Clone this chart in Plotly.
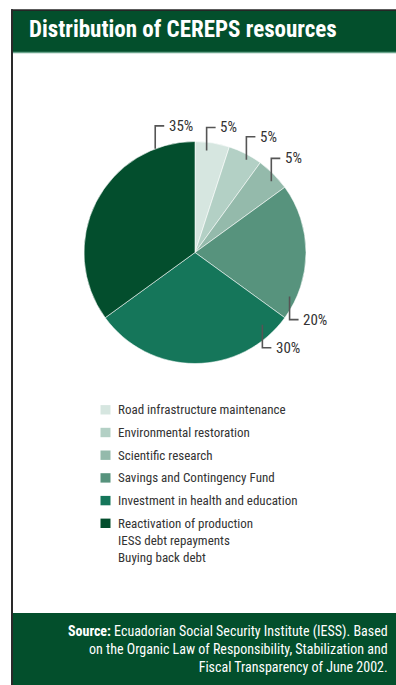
import math
import plotly.graph_objects as go

# ---- data ----
categories = [
    "Road infrastructure maintenance",
    "Environmental restoration",
    "Scientific research",
    "Savings and Contingency Fund",
    "Investment in health and education",
    "Reactivation of production<br>IESS debt repayments<br>Buying back debt",
]
shares = [5, 5, 5, 20, 30, 35]
slice_colors = ["#d6e6e0", "#b3d0c5", "#94baab", "#57937d", "#15765a", "#034e2d"]

title_text = "Distribution of CEREPS resources"
source_text = ("<b>Source:</b> Ecuadorian Social Security Institute (IESS). Based<br>"
               "on the Organic Law of Responsibility, Stabilization and<br>"
               "Fiscal Transparency of June 2002.")

# ---- layout constants ----
W, H = 396, 685
FONT = "Liberation Sans Narrow, Roboto Condensed, DejaVu Sans Condensed, Arial Narrow, sans-serif"
GREEN = "#034f2c"
CX, CY, R = 195, 252.5, 111  # pie centre / radius in px

# label anchors: angle (deg clockwise from 12 o'clock), radius fraction, direction (-1 up, +1 down)
label_anchor = [(6.5, 0.925, -1), (29, 0.955, -1), (47, 0.94, -1),
                (115, 0.94, 1), (137, 0.89, 1), (339, 1.0, -1)]


def px(x):
    return x / W


def py(y):
    return 1 - y / H


fig = go.Figure()
fig.add_trace(go.Pie(
    labels=categories, values=shares, sort=False, direction="clockwise", rotation=0,
    marker=dict(colors=slice_colors, line=dict(color="rgba(255,255,255,0.7)", width=0.8)),
    textinfo="none", hoverinfo="skip", showlegend=False,
    domain=dict(x=[px(CX - R), px(CX + R)], y=[py(CY + R), py(CY - R)]),
))

shapes = []
annotations = []

# frame: header, footer, borders
shapes.append(dict(type="rect", xref="paper", yref="paper", x0=px(12), x1=1, y0=py(52), y1=py(10.5),
                   fillcolor=GREEN, line_width=0, layer="below"))
shapes.append(dict(type="rect", xref="paper", yref="paper", x0=px(12), x1=1, y0=py(53.3), y1=py(51.8),
                   fillcolor="#6aa48c", line_width=0, layer="below"))
shapes.append(dict(type="rect", xref="paper", yref="paper", x0=px(12), x1=1, y0=0, y1=py(613),
                   fillcolor=GREEN, line_width=0, layer="below"))
shapes.append(dict(type="rect", xref="paper", yref="paper", x0=px(11), x1=1, y0=py(11), y1=py(9.3),
                   fillcolor="#262626", line_width=0, layer="below"))
shapes.append(dict(type="rect", xref="paper", yref="paper", x0=px(11), x1=px(13), y0=0, y1=py(9.3),
                   fillcolor="#2a2a2a", line_width=0, layer="below"))

annotations.append(dict(text="<b>" + title_text + "</b>", xref="paper", yref="paper",
                        x=px(27), y=py(30), xanchor="left", yanchor="middle", showarrow=False,
                        font=dict(family=FONT, size=23, color="white")))

annotations.append(dict(text=source_text, xref="paper", yref="paper", align="right",
                        x=px(390), y=py(621), xanchor="right", yanchor="top", showarrow=False,
                        font=dict(family=FONT, size=14, color="white")))

# percentage labels with elbow leader lines
total = sum(shares)
for v, (ang, rf, d) in zip(shares, label_anchor):
    a = math.radians(ang)
    x0 = CX + R * rf * math.sin(a)
    y0 = CY - R * rf * math.cos(a)
    y1 = y0 + d * 23
    x1 = x0 + 9
    shapes.append(dict(type="path", xref="paper", yref="paper",
                       path=f"M{px(x0)},{py(y0)} L{px(x0)},{py(y1)} L{px(x1)},{py(y1)}",
                       line=dict(color="#555555", width=1.6)))
    annotations.append(dict(text=f"{round(100 * v / total)}%", xref="paper", yref="paper",
                            x=px(x1 + 2.5), y=py(y1), xanchor="left", yanchor="middle", showarrow=False,
                            font=dict(family=FONT, size=15, color="#333333")))

# legend
LX, LY0, LDY = 100.5, 409.8, 22.7
for i, (name, col) in enumerate(zip(categories, slice_colors)):
    yc = LY0 + i * LDY
    shapes.append(dict(type="rect", xref="paper", yref="paper", x0=px(LX), x1=px(LX + 10),
                       y0=py(yc + 4.7), y1=py(yc - 4.7), fillcolor=col, line_width=0))
    annotations.append(dict(text=name, xref="paper", yref="paper", x=px(LX + 15.5), y=py(yc - 9.5),
                            xanchor="left", yanchor="top", align="left", showarrow=False,
                            font=dict(family=FONT, size=13, color="#333333")))

fig.update_layout(
    width=W, height=H, margin=dict(l=0, r=0, t=0, b=0),
    paper_bgcolor="white", plot_bgcolor="white",
    shapes=shapes, annotations=annotations, showlegend=False,
)

fig.write_html("out.html", config={"displayModeBar": False})
